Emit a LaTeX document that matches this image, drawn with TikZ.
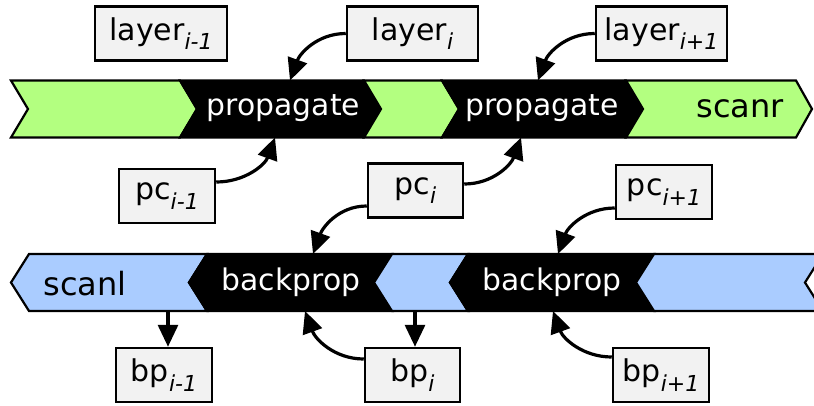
\documentclass[tikz,border=0pt]{standalone}
\usepackage{fontspec}
\setmainfont{DejaVu Sans}[ItalicFont={DejaVu Sans Oblique}]
\usetikzlibrary{arrows.meta}
\definecolor{fwdgreen}{RGB}{179,255,128}
\definecolor{bwdblue}{RGB}{170,204,255}
\definecolor{boxgray}{RGB}{242,242,242}
\newcommand\idx[1]{\raisebox{-0.32em}{\fontsize{22}{22}\selectfont\itshape #1}}
\tikzset{
  seg/.style={draw=black, line width=2.2pt, line join=miter},
  lbl/.style={draw=black, fill=boxgray, line width=2.5pt, minimum height=54pt, inner sep=0pt, font=\fontsize{30}{30}\selectfont},
  optext/.style={text=white, font=\fontsize{29.8}{30}\selectfont, inner sep=0pt},
  dirtext/.style={text=black, font=\fontsize{32}{32}\selectfont, inner sep=0pt},
  link/.style={line width=3.2pt, -{Triangle[length=22pt,width=20pt]}},
}
\begin{document}
\begin{tikzpicture}[x=1pt,y=1pt]
\clip (0,0) rectangle (814,-405);
% forward band (scanr)
\def\uT{-80.5}\def\uM{-109}\def\uB{-137.5}
\fill[fwdgreen, seg] (11,\uT) -- (180,\uT) -- (197,\uM) -- (180,\uB) -- (11,\uB) -- (28,\uM) -- cycle;
\fill[black, seg] (180,\uT) -- (364,\uT) -- (381,\uM) -- (364,\uB) -- (180,\uB) -- (197,\uM) -- cycle;
\fill[fwdgreen, seg] (364,\uT) -- (442,\uT) -- (459,\uM) -- (442,\uB) -- (364,\uB) -- (381,\uM) -- cycle;
\fill[black, seg] (442,\uT) -- (626,\uT) -- (643,\uM) -- (626,\uB) -- (442,\uB) -- (459,\uM) -- cycle;
\fill[fwdgreen, seg] (626,\uT) -- (796,\uT) -- (812,\uM) -- (796,\uB) -- (626,\uB) -- (643,\uM) -- cycle;
% backward band (scanl)
\def\lT{-254}\def\lM{-282.5}\def\lB{-311}
\fill[bwdblue, seg] (11,\lM) -- (29,\lT) -- (207,\lT) -- (189,\lM) -- (207,\lB) -- (29,\lB) -- cycle;
\fill[black, seg] (189,\lM) -- (207,\lT) -- (392,\lT) -- (374,\lM) -- (392,\lB) -- (207,\lB) -- cycle;
\fill[bwdblue, seg] (374,\lM) -- (392,\lT) -- (468,\lT) -- (450,\lM) -- (468,\lB) -- (392,\lB) -- cycle;
\fill[black, seg] (450,\lM) -- (468,\lT) -- (654,\lT) -- (636,\lM) -- (654,\lB) -- (468,\lB) -- cycle;
\fill[bwdblue, seg] (636,\lM) -- (654,\lT) -- (830,\lT) -- (830,\lB) -- (654,\lB) -- cycle;
\fill[white, seg] (840,\lT) -- (823,\lT) -- (805,\lM) -- (823,\lB) -- (840,\lB) -- cycle;
% band texts
\node[optext] (prop1) at (283.5,-108.5) {propagate};
\node[optext] (prop2) at (542,-108.5) {propagate};
\node[dirtext] (scanr) at (740,-108.5) {scanr};
\node[optext] (back1) at (291,-282) {backprop};
\node[optext] (back2) at (552,-282) {backprop};
\node[dirtext] (scanl) at (85,-284) {scanl};
% labelled boxes
\node[lbl, minimum width=132pt] (lay0) at (161,-33.5) {layer\idx{i-1}};
\node[lbl, minimum width=131pt] (lay1) at (412.5,-33.5) {layer\idx{i}};
\node[lbl, minimum width=131pt] (lay2) at (661.5,-33.5) {layer\idx{i+1}};
\node[lbl, minimum width=96pt] (pc0) at (167,-196) {pc\idx{i-1}};
\node[lbl, minimum width=95pt] (pc1) at (415.5,-190.5) {pc\idx{i}};
\node[lbl, minimum width=96pt] (pc2) at (664,-192) {pc\idx{i+1}};
\node[lbl, minimum width=96pt] (bp0) at (164,-375) {bp\idx{i-1}};
\node[lbl, minimum width=95pt] (bp1) at (412.5,-375) {bp\idx{i}};
\node[lbl, minimum width=96pt] (bp2) at (661,-375) {bp\idx{i+1}};
% attachment points on the bands
\coordinate (inL1) at (290,\uT);
\coordinate (inL2) at (538,\uT);
\coordinate (inP0) at (275,\uB);
\coordinate (inP1) at (521,\uB);
\coordinate (inQ1) at (313,\lT);
\coordinate (inQ2) at (558,\lT);
\coordinate (inB1) at (305,\lB);
\coordinate (inB2) at (553,\lB);
\coordinate (out0) at (168,\lB);
\coordinate (out1) at (415,\lB);
% connectors
\draw[link] (lay1.west) to[out=180,in=70] (inL1);
\draw[link] (lay2.west) to[out=180,in=70] (inL2);
\draw[link] ([yshift=14pt]pc0.east) to[out=0,in=-110] (inP0);
\draw[link] ([yshift=6.5pt]pc1.east) to[out=0,in=-110] (inP1);
\draw[link] ([yshift=-15.5pt]pc1.west) to[out=180,in=70] (inQ1);
\draw[link] ([yshift=-16pt]pc2.west) to[out=180,in=70] (inQ2);
\draw[link] ([yshift=16pt]bp1.west) to[out=180,in=-70] (inB1);
\draw[link] ([yshift=18pt]bp2.west) to[out=180,in=-70] (inB2);
\draw[link] (out0) -- (out0 |- bp0.north);
\draw[link] (out1) -- (out1 |- bp1.north);
\end{tikzpicture}
\end{document}
